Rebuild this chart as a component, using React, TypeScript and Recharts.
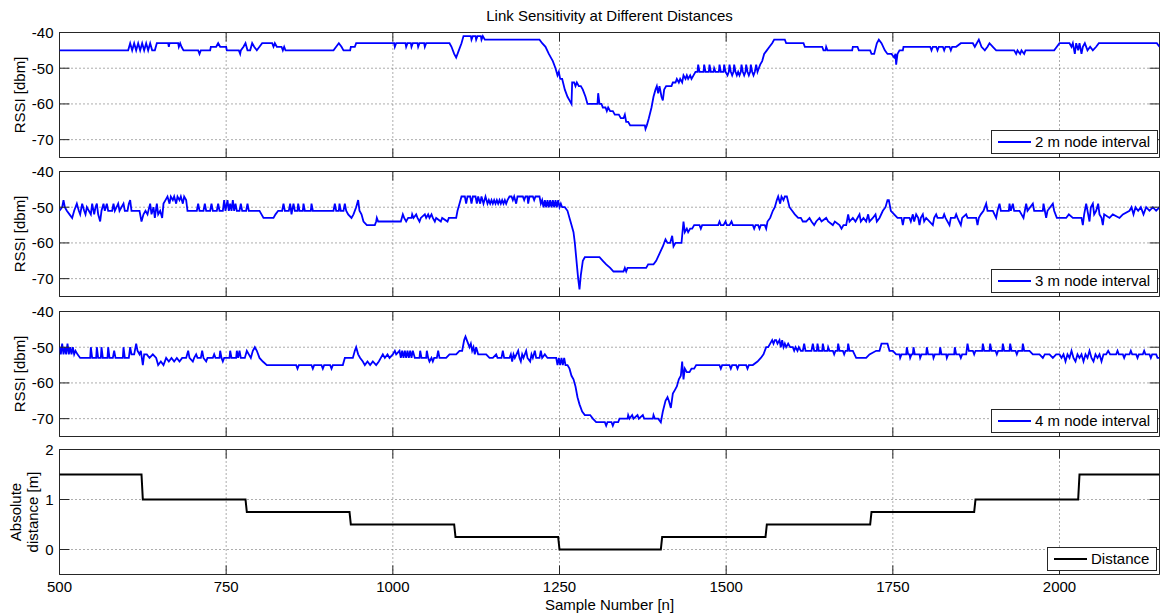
import { LineChart, Line, XAxis, YAxis, CartesianGrid, Legend, ReferenceArea } from 'recharts'

const FONT = '"Liberation Sans", Arial, Helvetica, sans-serif'
const AXIS = '#262626'
const GRID = '#5a5a5a'

const SAMPLE_TICKS = [500, 750, 1000, 1250, 1500, 1750, 2000]
const SAMPLE_RANGE = [500, 2150]
const RSSI_TICKS = [-70, -60, -50, -40]
const RSSI_RANGE = [-75, -40]
const DIST_TICKS = [0, 1, 2]
const DIST_RANGE = [-0.5, 2]

// [sample, rssi]
const RSSI_2M: [number, number][] = [
  [500, -45], [603, -45], [606, -43], [609, -45], [612, -43], [615, -45], [618, -43], [621, -45], [624, -43], [627, -45],
  [630, -43], [633, -45], [636, -43], [639, -45], [643, -45], [646, -43], [663, -43], [664, -44], [665, -43], [678, -43],
  [679, -44], [681, -43], [683, -44], [686, -45], [708, -45], [710, -46], [712, -45], [726, -45], [727, -44], [735, -44],
  [738, -43], [741, -44], [750, -44], [751, -45], [769, -45], [771, -46], [772, -45], [776, -44], [779, -43], [782, -45],
  [786, -45], [789, -43], [792, -44], [796, -45], [800, -44], [804, -43], [819, -43], [821, -44], [823, -43], [826, -44],
  [833, -44], [835, -45], [837, -44], [839, -45], [911, -45], [915, -44], [919, -43], [923, -44], [926, -45], [936, -45],
  [937, -44], [943, -44], [945, -43], [1002, -43], [1003, -44], [1005, -43], [1019, -43], [1020, -44], [1022, -43], [1027, -43],
  [1028, -44], [1030, -43], [1037, -43], [1038, -44], [1040, -43], [1047, -43], [1048, -44], [1050, -43], [1085, -43], [1088, -44],
  [1092, -46], [1095, -47], [1099, -45], [1103, -43], [1106, -41], [1117, -41], [1118, -42], [1120, -41], [1124, -41], [1125, -42],
  [1127, -41], [1132, -41], [1133, -42], [1135, -41], [1138, -42], [1220, -42], [1224, -43], [1229, -44], [1234, -46], [1240, -48],
  [1244, -50], [1247, -52], [1249, -51], [1251, -53], [1254, -53], [1258, -56], [1262, -58], [1265, -59], [1268, -60], [1269, -54],
  [1272, -54], [1274, -55], [1276, -54], [1279, -55], [1282, -55], [1285, -56], [1289, -58], [1292, -60], [1307, -60], [1308, -57],
  [1310, -60], [1313, -60], [1315, -61], [1319, -61], [1321, -62], [1323, -61], [1326, -62], [1330, -62], [1333, -63], [1339, -63],
  [1342, -64], [1346, -64], [1348, -63], [1350, -65], [1353, -65], [1356, -66], [1378, -66], [1379, -67], [1381, -66], [1384, -64],
  [1388, -61], [1391, -58], [1394, -56], [1396, -55], [1398, -57], [1400, -55], [1403, -58], [1405, -59], [1407, -56], [1410, -55],
  [1418, -55], [1420, -54], [1424, -54], [1426, -53], [1429, -54], [1431, -53], [1434, -54], [1436, -52], [1439, -53], [1441, -52],
  [1443, -53], [1446, -52], [1448, -53], [1451, -52], [1454, -51], [1457, -51], [1458, -49], [1460, -51], [1466, -51], [1467, -49],
  [1469, -51], [1474, -51], [1475, -49], [1477, -51], [1481, -51], [1482, -50], [1484, -51], [1489, -51], [1490, -49], [1492, -51],
  [1496, -51], [1497, -49], [1499, -51], [1502, -52], [1504, -51], [1505, -49], [1507, -51], [1509, -52], [1511, -51], [1512, -49],
  [1514, -51], [1516, -52], [1518, -51], [1520, -52], [1522, -51], [1523, -49], [1525, -51], [1527, -52], [1529, -51], [1530, -49],
  [1532, -51], [1534, -52], [1536, -51], [1537, -49], [1539, -51], [1541, -52], [1543, -51], [1545, -49], [1547, -51], [1549, -50],
  [1551, -49], [1554, -48], [1557, -46], [1561, -45], [1565, -44], [1569, -43], [1572, -42], [1588, -42], [1590, -43], [1616, -43],
  [1618, -44], [1644, -44], [1646, -45], [1649, -45], [1650, -44], [1652, -45], [1689, -45], [1690, -44], [1697, -44], [1699, -45],
  [1716, -45], [1718, -46], [1722, -46], [1726, -43], [1729, -42], [1733, -43], [1738, -45], [1742, -46], [1748, -46], [1752, -47],
  [1754, -46], [1755, -49], [1757, -46], [1760, -45], [1765, -45], [1766, -44], [1806, -44], [1808, -45], [1810, -44], [1815, -44],
  [1817, -45], [1819, -44], [1825, -44], [1827, -45], [1829, -44], [1835, -44], [1837, -45], [1839, -44], [1845, -44], [1852, -43],
  [1870, -43], [1873, -44], [1879, -42], [1883, -44], [1888, -45], [1892, -44], [1895, -43], [1900, -44], [1905, -45], [1932, -45],
  [1935, -46], [1937, -45], [1941, -46], [1943, -45], [1947, -46], [1949, -45], [1992, -45], [1996, -44], [2000, -43], [2015, -43],
  [2018, -44], [2020, -43], [2023, -46], [2025, -43], [2028, -45], [2030, -43], [2033, -46], [2035, -44], [2038, -43], [2042, -45],
  [2046, -44], [2050, -45], [2055, -44], [2059, -43], [2146, -43], [2150, -44],
]

const RSSI_3M: [number, number][] = [
  [500, -51], [504, -50], [506, -48], [508, -50], [511, -51], [515, -52], [519, -53], [522, -51], [526, -49], [529, -51],
  [531, -52], [534, -49], [537, -51], [539, -52], [541, -50], [544, -51], [547, -52], [549, -49], [552, -52], [554, -50],
  [556, -49], [558, -52], [561, -54], [563, -51], [566, -49], [568, -51], [571, -49], [573, -51], [579, -51], [581, -49],
  [583, -51], [588, -49], [590, -51], [596, -49], [598, -51], [602, -51], [604, -49], [606, -48], [608, -51], [620, -51],
  [623, -54], [626, -52], [629, -51], [632, -52], [636, -49], [638, -52], [641, -50], [643, -53], [646, -49], [648, -52],
  [651, -51], [654, -53], [656, -49], [659, -48], [662, -47], [665, -49], [667, -47], [670, -48], [672, -47], [675, -49],
  [677, -47], [680, -48], [682, -47], [685, -49], [687, -47], [690, -48], [692, -51], [706, -51], [708, -49], [710, -51],
  [716, -51], [718, -49], [720, -51], [726, -51], [728, -49], [730, -51], [736, -51], [738, -49], [740, -51], [745, -51],
  [747, -48], [749, -51], [752, -48], [754, -51], [756, -49], [758, -51], [760, -48], [762, -51], [764, -49], [766, -51],
  [770, -51], [772, -49], [774, -51], [780, -51], [782, -49], [784, -51], [800, -51], [803, -52], [806, -53], [821, -53],
  [824, -52], [828, -51], [834, -51], [836, -49], [838, -51], [844, -51], [846, -49], [848, -52], [851, -49], [853, -51],
  [857, -51], [858, -49], [860, -51], [865, -51], [866, -49], [868, -51], [877, -51], [878, -49], [880, -51], [911, -51],
  [913, -49], [915, -51], [919, -51], [920, -49], [922, -51], [926, -51], [928, -49], [930, -51], [933, -52], [938, -53],
  [941, -52], [945, -50], [948, -48], [950, -51], [953, -52], [956, -54], [961, -55], [973, -55], [975, -54], [976, -53],
  [978, -54], [1012, -54], [1015, -52], [1017, -53], [1020, -54], [1023, -53], [1028, -53], [1029, -52], [1031, -53], [1035, -52],
  [1037, -53], [1040, -54], [1042, -53], [1048, -52], [1050, -53], [1053, -52], [1055, -53], [1058, -52], [1060, -53], [1063, -54],
  [1065, -53], [1072, -54], [1074, -53], [1082, -54], [1084, -53], [1095, -53], [1097, -51], [1100, -49], [1103, -47], [1108, -47],
  [1110, -49], [1112, -47], [1116, -47], [1118, -49], [1120, -47], [1124, -47], [1126, -49], [1128, -47], [1131, -49], [1133, -47],
  [1136, -49], [1139, -47], [1142, -49], [1144, -48], [1146, -49], [1148, -48], [1150, -49], [1152, -48], [1154, -49], [1156, -48],
  [1158, -49], [1160, -48], [1162, -49], [1164, -48], [1166, -49], [1168, -48], [1170, -49], [1172, -48], [1175, -47], [1178, -47],
  [1180, -48], [1182, -47], [1185, -49], [1187, -47], [1195, -47], [1197, -48], [1199, -47], [1202, -47], [1203, -49], [1205, -47],
  [1210, -47], [1212, -48], [1214, -47], [1220, -47], [1222, -49], [1224, -48], [1226, -50], [1228, -48], [1230, -50], [1232, -48],
  [1234, -50], [1236, -48], [1238, -50], [1240, -48], [1242, -50], [1244, -48], [1246, -50], [1248, -48], [1250, -50], [1252, -49],
  [1254, -50], [1258, -50], [1262, -51], [1265, -53], [1268, -55], [1271, -57], [1273, -60], [1276, -66], [1278, -70], [1280, -73],
  [1282, -69], [1285, -65], [1288, -64], [1310, -64], [1315, -65], [1320, -66], [1326, -67], [1331, -68], [1346, -68], [1348, -67],
  [1350, -68], [1352, -67], [1380, -67], [1383, -66], [1391, -66], [1395, -65], [1400, -63], [1405, -61], [1409, -59], [1412, -60],
  [1416, -60], [1419, -58], [1421, -61], [1424, -60], [1433, -60], [1436, -54], [1438, -57], [1441, -56], [1443, -57], [1446, -56],
  [1449, -56], [1452, -55], [1460, -55], [1462, -56], [1464, -55], [1488, -55], [1490, -54], [1492, -55], [1496, -55], [1499, -54],
  [1501, -55], [1505, -55], [1508, -54], [1510, -55], [1540, -55], [1542, -56], [1544, -55], [1548, -55], [1550, -56], [1552, -55],
  [1558, -55], [1560, -56], [1562, -54], [1566, -53], [1570, -51], [1573, -50], [1576, -48], [1578, -47], [1581, -49], [1583, -47],
  [1586, -48], [1588, -47], [1591, -47], [1595, -50], [1599, -51], [1603, -52], [1608, -53], [1612, -53], [1615, -54], [1620, -54],
  [1625, -53], [1628, -54], [1632, -55], [1635, -54], [1640, -53], [1643, -54], [1650, -53], [1653, -54], [1660, -55], [1663, -54],
  [1670, -55], [1673, -56], [1676, -55], [1680, -55], [1683, -52], [1685, -54], [1690, -53], [1694, -54], [1700, -52], [1702, -54],
  [1706, -53], [1710, -54], [1713, -52], [1715, -54], [1720, -53], [1724, -52], [1726, -54], [1730, -53], [1735, -51], [1739, -50],
  [1742, -48], [1744, -48], [1747, -51], [1752, -52], [1757, -53], [1763, -53], [1765, -55], [1767, -53], [1775, -53], [1777, -54],
  [1780, -52], [1782, -54], [1785, -52], [1788, -53], [1790, -55], [1792, -53], [1795, -52], [1797, -54], [1800, -53], [1810, -55],
  [1812, -53], [1815, -52], [1817, -53], [1825, -53], [1827, -52], [1829, -53], [1835, -55], [1837, -53], [1843, -53], [1845, -52],
  [1847, -53], [1852, -55], [1854, -53], [1860, -52], [1862, -53], [1875, -53], [1877, -55], [1879, -53], [1882, -52], [1886, -51],
  [1890, -49], [1892, -51], [1900, -51], [1905, -53], [1907, -51], [1910, -49], [1912, -51], [1924, -51], [1925, -49], [1927, -51],
  [1930, -49], [1932, -51], [1940, -51], [1946, -53], [1948, -51], [1950, -49], [1952, -51], [1960, -49], [1962, -51], [1975, -51],
  [1976, -49], [1978, -51], [1980, -53], [1982, -51], [1990, -49], [1992, -51], [1996, -53], [2010, -53], [2014, -52], [2020, -53],
  [2033, -53], [2035, -55], [2037, -52], [2040, -49], [2042, -51], [2045, -54], [2047, -50], [2050, -49], [2052, -52], [2055, -51],
  [2058, -49], [2060, -52], [2063, -53], [2065, -55], [2067, -52], [2075, -53], [2080, -52], [2090, -53], [2095, -52], [2105, -51],
  [2108, -50], [2111, -52], [2114, -50], [2118, -51], [2122, -50], [2126, -52], [2130, -50], [2135, -51], [2140, -50], [2145, -51],
  [2150, -50],
]

const RSSI_4M: [number, number][] = [
  [500, -50], [502, -52], [504, -49], [506, -52], [508, -50], [510, -52], [512, -49], [514, -52], [516, -50], [518, -52],
  [520, -50], [522, -52], [524, -51], [527, -52], [531, -53], [546, -53], [547, -50], [549, -53], [555, -53], [556, -50],
  [558, -53], [562, -53], [563, -50], [565, -53], [572, -53], [573, -50], [575, -53], [580, -53], [582, -51], [584, -53],
  [595, -53], [596, -50], [598, -53], [604, -53], [606, -50], [608, -52], [612, -52], [615, -49], [617, -51], [620, -52],
  [622, -51], [625, -55], [627, -52], [631, -52], [635, -53], [640, -52], [645, -53], [648, -55], [652, -54], [656, -55],
  [660, -53], [664, -54], [668, -53], [672, -54], [676, -53], [680, -54], [684, -53], [690, -53], [693, -51], [695, -53],
  [700, -54], [702, -53], [705, -52], [707, -53], [712, -53], [714, -51], [716, -53], [720, -54], [722, -53], [730, -53],
  [732, -52], [734, -53], [740, -53], [741, -51], [743, -53], [745, -54], [747, -53], [755, -53], [756, -51], [758, -53],
  [765, -53], [766, -51], [768, -53], [770, -51], [772, -53], [778, -53], [781, -51], [784, -52], [787, -53], [790, -51],
  [793, -50], [796, -51], [800, -53], [805, -54], [811, -55], [855, -55], [857, -56], [859, -55], [878, -55], [880, -56],
  [882, -55], [893, -55], [895, -56], [897, -55], [906, -55], [908, -56], [910, -55], [925, -55], [928, -53], [940, -53],
  [943, -51], [945, -50], [948, -52], [951, -53], [955, -54], [958, -55], [962, -54], [966, -55], [970, -54], [975, -55],
  [979, -54], [982, -53], [985, -52], [988, -53], [992, -52], [995, -53], [1000, -52], [1003, -51], [1005, -52], [1010, -51],
  [1012, -53], [1014, -51], [1016, -53], [1018, -51], [1020, -53], [1022, -51], [1024, -53], [1026, -51], [1028, -53], [1030, -51],
  [1033, -53], [1040, -53], [1041, -51], [1043, -53], [1050, -53], [1051, -51], [1053, -53], [1055, -54], [1058, -53], [1060, -54],
  [1062, -53], [1066, -53], [1068, -51], [1070, -53], [1080, -53], [1085, -52], [1095, -52], [1100, -51], [1104, -51], [1107, -48],
  [1109, -47], [1111, -48], [1113, -49], [1115, -50], [1117, -49], [1119, -51], [1121, -50], [1123, -52], [1125, -50], [1128, -52],
  [1140, -52], [1145, -53], [1150, -53], [1155, -52], [1157, -53], [1163, -53], [1165, -51], [1167, -53], [1175, -53], [1177, -52],
  [1179, -54], [1181, -52], [1183, -53], [1188, -51], [1190, -53], [1192, -54], [1194, -52], [1196, -53], [1200, -51], [1202, -53],
  [1206, -54], [1208, -52], [1210, -53], [1213, -51], [1215, -53], [1220, -53], [1222, -51], [1224, -53], [1228, -52], [1232, -53],
  [1245, -53], [1247, -55], [1249, -53], [1251, -55], [1253, -53], [1255, -55], [1257, -53], [1259, -55], [1262, -55], [1265, -56],
  [1268, -58], [1271, -59], [1274, -61], [1277, -64], [1280, -66], [1284, -68], [1288, -69], [1296, -69], [1300, -70], [1305, -71],
  [1318, -71], [1320, -72], [1322, -71], [1328, -71], [1330, -72], [1332, -71], [1338, -71], [1340, -70], [1352, -70], [1353, -69],
  [1355, -70], [1359, -69], [1361, -70], [1367, -69], [1369, -70], [1375, -69], [1377, -70], [1390, -70], [1391, -69], [1393, -70],
  [1398, -70], [1402, -71], [1405, -68], [1409, -65], [1412, -64], [1414, -65], [1417, -67], [1420, -63], [1423, -62], [1426, -61],
  [1429, -59], [1432, -58], [1434, -54], [1436, -59], [1438, -56], [1441, -57], [1445, -57], [1448, -56], [1452, -56], [1455, -55],
  [1490, -55], [1492, -56], [1494, -55], [1505, -55], [1507, -56], [1509, -55], [1515, -55], [1517, -56], [1519, -55], [1530, -55],
  [1532, -56], [1534, -55], [1540, -55], [1547, -54], [1552, -53], [1556, -52], [1560, -50], [1563, -50], [1566, -49], [1569, -48],
  [1571, -49], [1573, -48], [1575, -48], [1577, -49], [1580, -48], [1582, -50], [1584, -48], [1586, -50], [1588, -49], [1590, -50],
  [1593, -49], [1596, -50], [1600, -50], [1602, -51], [1604, -50], [1607, -51], [1609, -50], [1612, -51], [1615, -51], [1617, -49],
  [1619, -51], [1628, -51], [1630, -49], [1632, -51], [1636, -51], [1637, -49], [1639, -51], [1644, -51], [1645, -49], [1647, -51],
  [1652, -51], [1653, -50], [1655, -51], [1660, -51], [1662, -52], [1664, -51], [1667, -51], [1668, -49], [1670, -51], [1675, -51],
  [1677, -52], [1679, -51], [1682, -51], [1683, -49], [1685, -51], [1690, -51], [1695, -53], [1710, -53], [1715, -52], [1725, -51],
  [1730, -51], [1733, -49], [1742, -49], [1745, -51], [1750, -51], [1755, -52], [1760, -52], [1761, -53], [1763, -52], [1770, -52],
  [1771, -50], [1773, -52], [1775, -52], [1776, -53], [1778, -52], [1780, -52], [1781, -50], [1783, -52], [1790, -52], [1791, -53],
  [1793, -52], [1800, -52], [1801, -50], [1803, -52], [1810, -52], [1811, -53], [1813, -52], [1820, -52], [1821, -50], [1823, -52],
  [1830, -52], [1831, -53], [1833, -52], [1842, -52], [1843, -50], [1845, -52], [1850, -52], [1852, -53], [1854, -52], [1860, -52],
  [1862, -49], [1864, -51], [1870, -51], [1872, -52], [1874, -51], [1884, -51], [1885, -49], [1887, -51], [1895, -51], [1896, -49],
  [1898, -51], [1904, -51], [1906, -52], [1908, -51], [1914, -51], [1915, -49], [1917, -51], [1925, -51], [1926, -49], [1928, -51],
  [1934, -51], [1936, -52], [1938, -51], [1944, -51], [1945, -49], [1947, -51], [1955, -51], [1960, -52], [1970, -52], [1975, -53],
  [1978, -52], [1985, -52], [1990, -53], [1995, -52], [2000, -52], [2003, -53], [2006, -52], [2009, -54], [2012, -52], [2015, -53],
  [2018, -51], [2021, -53], [2024, -54], [2027, -52], [2030, -53], [2033, -52], [2036, -54], [2039, -52], [2042, -53], [2045, -51],
  [2048, -53], [2051, -54], [2054, -52], [2057, -53], [2060, -52], [2063, -54], [2066, -52], [2070, -52], [2073, -51], [2076, -52],
  [2085, -52], [2087, -51], [2089, -52], [2095, -52], [2097, -53], [2099, -52], [2105, -52], [2107, -51], [2109, -52], [2115, -52],
  [2117, -53], [2119, -52], [2125, -52], [2127, -51], [2129, -52], [2135, -52], [2137, -53], [2139, -52], [2145, -52], [2147, -53],
  [2150, -53],
]

// [sample, metres]
const DISTANCE: [number, number][] = [
  [500, 1.5], [623, 1.5], [625, 1], [779, 1], [781, 0.75], [935, 0.75], [937, 0.5], [1092, 0.5], [1094, 0.25],
  [1248, 0.25], [1250, 0], [1402, 0], [1404, 0.25], [1559, 0.25], [1561, 0.5], [1716, 0.5], [1718, 0.75],
  [1872, 0.75], [1874, 1], [2028, 1], [2030, 1.5], [2150, 1.5],
]

const W = 1161
const PLOT_W = 1100
const PLOT_H = 125
const TOP = 10.5
const Y_MARGIN = 6
const X_MARGIN = 7

// tick label outside, MATLAB-style tick marks pointing into the box on both sides
const yTick = (props: any) => {
  const { x, y, payload } = props
  const ax = x + Y_MARGIN
  return (
    <g>
      <line x1={ax} x2={ax + 10} y1={y} y2={y} stroke={AXIS} />
      <line x1={ax + PLOT_W - 10} x2={ax + PLOT_W} y1={y} y2={y} stroke={AXIS} />
      <text x={x} y={y} dy="0.355em" textAnchor="end" fontSize={15} fontFamily={FONT} fill="#000">{payload.value}</text>
    </g>
  )
}

const xTick = (showLabel: boolean) => (props: any) => {
  const { x, y, payload } = props
  const ay = y - X_MARGIN
  return (
    <g>
      <line x1={x} x2={x} y1={ay} y2={ay - 9} stroke={AXIS} />
      <line x1={x} x2={x} y1={ay - PLOT_H} y2={ay - PLOT_H + 9} stroke={AXIS} />
      {showLabel && (
        <text x={x} y={y} dy="0.71em" textAnchor="middle" fontSize={15} fontFamily={FONT} fill="#000">{payload.value}</text>
      )}
    </g>
  )
}

function yTitle(lines: string[], xs: number[]) {
  return (props: any) => {
    const vb = props.viewBox || { x: 0, y: TOP, width: 59.5, height: PLOT_H }
    const cy = vb.y + vb.height / 2
    return (
      <g>
        {lines.map((t, i) => (
          <text key={t} x={xs[i]} y={cy} transform={`rotate(-90 ${xs[i]} ${cy})`} textAnchor="middle"
            dominantBaseline="central" fontSize={15} fontFamily={FONT} fill="#000">{t}</text>
        ))}
      </g>
    )
  }
}

const xTitle = (props: any) => {
  const vb = props.viewBox || { x: 59.5, y: TOP + PLOT_H, width: PLOT_W, height: 38.5 }
  return (
    <text x={vb.x + vb.width / 2} y={vb.y + 35} textAnchor="middle" fontSize={15} fontFamily={FONT} fill="#000">
      Sample Number [n]
    </text>
  )
}

function LegendBox(props: any) {
  const item = props.payload?.[0]
  if (!item) return null
  return (
    <div style={{
      boxSizing: 'border-box', height: 24, display: 'flex', alignItems: 'center', padding: '0 7px 0 6px',
      border: `1px solid ${AXIS}`, background: '#fff', fontFamily: FONT, fontSize: 15, color: '#000', whiteSpace: 'nowrap',
    }}>
      <span style={{ display: 'inline-block', width: 33, borderTop: `2px solid ${item.color}`, marginRight: 4 }} />
      {item.value}
    </div>
  )
}

type PanelProps = {
  top: number
  points: [number, number][]
  name: string
  color: string
  lineWidth: number
  yRange: number[]
  yTicks: number[]
  yLabel: (props: any) => any
  legendLeft: number
  showX?: boolean
}

function Panel({ top, points, name, color, lineWidth, yRange, yTicks, yLabel, legendLeft, showX }: PanelProps) {
  const rows = points.map(([n, v]) => ({ n, v }))
  const xHeight = showX ? 38.5 : 1
  const bottom = showX ? 0 : 1.5
  return (
    <div style={{ position: 'absolute', left: 0, top }}>
      <LineChart width={W} height={TOP + PLOT_H + xHeight + bottom} data={rows}
        margin={{ top: TOP, right: 1.5, bottom, left: 0 }}>
        <CartesianGrid stroke={GRID} strokeDasharray="1 3" />
        <XAxis dataKey="n" type="number" domain={SAMPLE_RANGE} ticks={SAMPLE_TICKS} allowDataOverflow
          height={xHeight} axisLine={false} tickLine={false} tickSize={0} tickMargin={X_MARGIN}
          tick={xTick(!!showX)} label={showX ? xTitle : undefined} />
        <YAxis type="number" domain={yRange} ticks={yTicks} allowDataOverflow width={59.5}
          axisLine={false} tickLine={false} tickSize={0} tickMargin={Y_MARGIN} tick={yTick} label={yLabel} />
        <ReferenceArea x1={SAMPLE_RANGE[0]} x2={SAMPLE_RANGE[1]} y1={yRange[0]} y2={yRange[1]}
          fill="none" stroke={AXIS} strokeOpacity={1} />
        <Legend layout="vertical" align="center" verticalAlign="middle" content={LegendBox}
          wrapperStyle={{ left: legendLeft, top: TOP + 97, width: 'auto', height: 'auto' }} />
        <Line type="linear" dataKey="v" name={name} stroke={color} strokeWidth={lineWidth} dot={false}
          activeDot={false} legendType="line" isAnimationActive={false} />
      </LineChart>
    </div>
  )
}

const rssiLabel = yTitle(['RSSI [dbm]'], [19])

export default function App() {
  return (
    <div style={{ position: 'absolute', left: 0, top: 0, width: W, height: 613, background: '#fff', overflow: 'hidden' }}>
      <svg width={W} height={30} style={{ position: 'absolute', left: 0, top: 0 }}>
        <text x={609.5} y={21} textAnchor="middle" fontSize={15} fontFamily={FONT} fill="#000">
          Link Sensitivity at Different Distances
        </text>
      </svg>
      <Panel top={22} points={RSSI_2M} name="2 m node interval" color="#0000ff" lineWidth={1.8}
        yRange={RSSI_RANGE} yTicks={RSSI_TICKS} yLabel={rssiLabel} legendLeft={991} />
      <Panel top={161} points={RSSI_3M} name="3 m node interval" color="#0000ff" lineWidth={1.8}
        yRange={RSSI_RANGE} yTicks={RSSI_TICKS} yLabel={rssiLabel} legendLeft={991} />
      <Panel top={301} points={RSSI_4M} name="4 m node interval" color="#0000ff" lineWidth={1.8}
        yRange={RSSI_RANGE} yTicks={RSSI_TICKS} yLabel={rssiLabel} legendLeft={991} />
      <Panel top={439} points={DISTANCE} name="Distance" color="#000000" lineWidth={2}
        yRange={DIST_RANGE} yTicks={DIST_TICKS} yLabel={yTitle(['Absolute', 'distance [m]'], [15, 32])}
        legendLeft={1047} showX />
    </div>
  )
}
